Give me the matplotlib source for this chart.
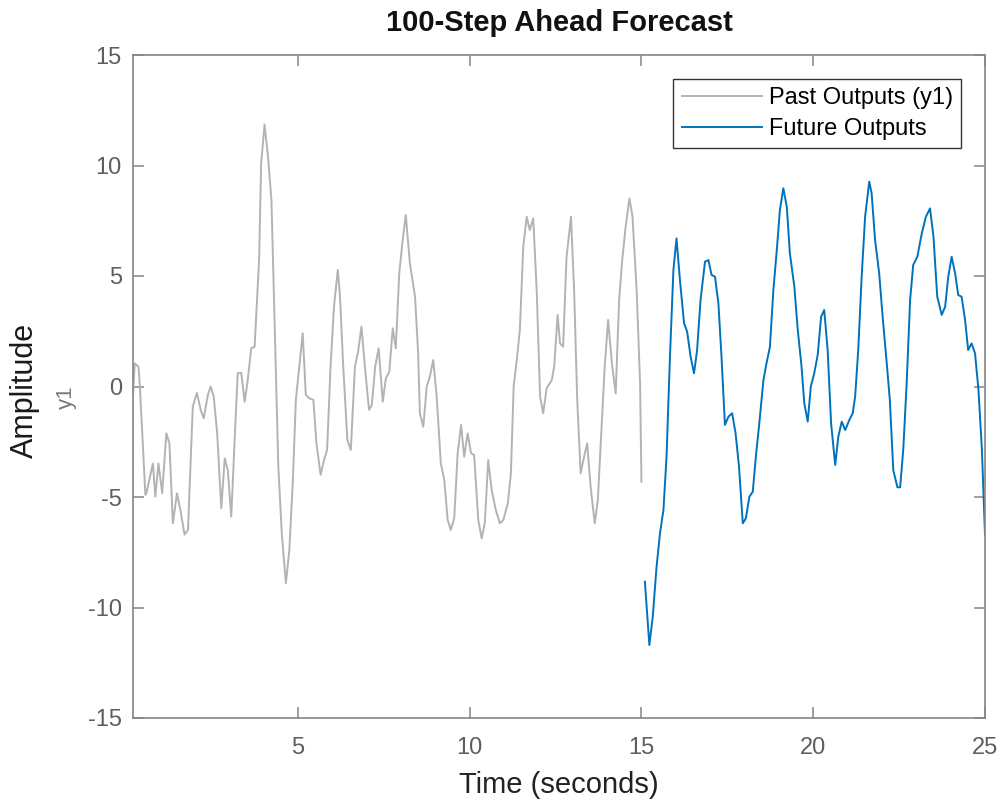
import matplotlib
matplotlib.use('Agg')
import matplotlib.pyplot as plt

# Past outputs (y1), vertices
past_t = [0.2, 0.25, 0.36, 0.40, 0.56, 0.59, 0.78, 0.85, 0.94, 1.05, 1.17, 1.26,
          1.36, 1.48, 1.58, 1.70, 1.80, 1.94, 2.06, 2.17, 2.26, 2.38, 2.46, 2.55,
          2.65, 2.77, 2.87, 2.96, 3.06, 3.18, 3.25, 3.35, 3.45, 3.54, 3.64, 3.74,
          3.87, 3.93, 4.03, 4.13, 4.23, 4.33, 4.43, 4.53, 4.65, 4.75, 4.85, 4.94,
          5.04, 5.14, 5.23, 5.33, 5.45, 5.54, 5.66, 5.76, 5.85, 5.95, 6.05, 6.16,
          6.22, 6.32, 6.44, 6.54, 6.66, 6.76, 6.85, 6.95, 7.07, 7.15, 7.25, 7.35,
          7.47, 7.56, 7.66, 7.76, 7.85, 7.95, 8.05, 8.14, 8.26, 8.41, 8.50, 8.55,
          8.65, 8.75, 8.84, 8.94, 9.04, 9.16, 9.26, 9.36, 9.45, 9.55, 9.65, 9.75,
          9.84, 9.94, 10.04, 10.13, 10.25, 10.35, 10.44, 10.54, 10.64, 10.76,
          10.88, 10.98, 11.11, 11.20, 11.28, 11.37, 11.46, 11.56, 11.66, 11.75,
          11.85, 11.95, 12.05, 12.14, 12.24, 12.39, 12.46, 12.56, 12.63, 12.72,
          12.82, 12.95, 13.04, 13.13, 13.23, 13.33, 13.42, 13.52, 13.64, 13.73,
          13.83, 13.93, 14.03, 14.14, 14.25, 14.35, 14.44, 14.54, 14.65, 14.74,
          14.86, 14.96, 15.0]
past_y = [-0.4, 1.05, 0.9, 0.0, -4.9, -4.83, -3.48, -4.98, -3.48, -4.83, -2.12, -2.57,
          -6.19, -4.83, -5.59, -6.7, -6.49, -0.91, -0.28, -1.06, -1.44, -0.38, 0.0, -0.46,
          -2.12, -5.51, -3.25, -3.78, -5.89, -1.67, 0.6, 0.62, -0.69, 0.29, 1.73, 1.8,
          5.72, 10.1, 11.85, 10.4, 8.44, 2.41, -3.63, -6.63, -8.9, -7.4, -4.38, -0.61,
          0.9, 2.41, -0.38, -0.53, -0.61, -2.57, -4.0, -3.33, -2.87, 0.9, 3.61, 5.27,
          4.22, 0.9, -2.42, -2.87, 0.9, 1.65, 2.71, 0.9, -1.06, -0.84, 0.9, 1.73,
          -0.69, 0.37, 0.67, 2.63, 1.73, 5.12, 6.63, 7.76, 5.57, 4.06, 1.5, -1.21,
          -1.82, 0.0, 0.44, 1.2, -0.46, -3.48, -4.23, -6.04, -6.49, -5.96, -3.02, -1.74,
          -3.18, -2.12, -3.02, -3.1, -6.04, -6.87, -6.19, -3.33, -4.68, -5.59,
          -6.19, -6.04, -5.29, -3.93, 0.0, 1.2, 2.56, 6.33, 7.68, 7.08,
          7.61, 4.37, -0.46, -1.21, -0.08, 0.29, 0.9, 3.24, 1.95, 1.8,
          5.87, 7.68, 4.37, -0.61, -3.93, -3.18, -2.57, -4.53, -6.19, -5.14,
          -2.12, 0.9, 3.01, 1.05, -0.31, 3.91, 5.72, 7.23, 8.51, 7.68,
          4.37, 0.14, -4.31]

# Future outputs (100-step forecast)
future_t = [15.1, 15.23, 15.33, 15.44, 15.54, 15.64, 15.73, 15.83, 15.93, 16.02,
            16.12, 16.24, 16.33, 16.43, 16.53, 16.62, 16.72, 16.85, 16.95, 17.04,
            17.14, 17.24, 17.33, 17.43, 17.53, 17.64, 17.74, 17.84, 17.95, 18.04,
            18.14, 18.24, 18.33, 18.43, 18.55, 18.64, 18.74, 18.84, 18.94, 19.03,
            19.13, 19.23, 19.32, 19.45, 19.55, 19.66, 19.74, 19.84, 19.93, 20.03,
            20.13, 20.23, 20.32, 20.42, 20.52, 20.64, 20.73, 20.83, 20.93, 21.05,
            21.15, 21.22, 21.31, 21.41, 21.51, 21.63, 21.70, 21.80, 21.92, 22.02,
            22.14, 22.23, 22.33, 22.45, 22.53, 22.62, 22.72, 22.82, 22.91, 23.03,
            23.16, 23.28, 23.40, 23.50, 23.61, 23.74, 23.84, 23.93, 24.03, 24.13,
            24.22, 24.32, 24.42, 24.51, 24.61, 24.71, 24.81, 24.91, 25.0]
future_y = [-8.83, -11.7, -10.4, -8.15, -6.64, -5.59, -3.18, 1.35, 5.27, 6.7,
            4.82, 2.86, 2.48, 1.35, 0.6, 1.65, 3.91, 5.65, 5.72, 5.05,
            4.97, 3.76, 1.35, -1.74, -1.37, -1.21, -2.12, -3.63, -6.19, -5.96,
            -4.99, -4.76, -3.18, -1.67, 0.29, 1.05, 1.8, 4.37, 6.18, 7.99,
            8.97, 8.14, 6.03, 4.52, 2.56, 0.9, -0.76, -1.59, 0.0, 0.6,
            1.43, 3.16, 3.46, 1.65, -1.67, -3.55, -2.27, -1.59, -1.97, -1.52,
            -1.21, -0.46, 1.65, 4.97, 7.68, 9.27, 8.74, 6.63, 5.12, 3.16,
            1.05, -0.61, -3.78, -4.56, -4.56, -2.87, 0.14, 3.91, 5.5, 5.87,
            6.93, 7.68, 8.06, 6.78, 4.06, 3.24, 3.61, 4.97, 5.87, 5.12,
            4.14, 4.06, 3.01, 1.65, 1.95, 1.5, -0.16, -2.87, -6.7]

x_ticks = [5, 10, 15, 20, 25]
y_ticks = [-15, -10, -5, 0, 5, 10, 15]

plt.rcParams['font.family'] = ['Liberation Sans', 'DejaVu Sans']
plt.rcParams['axes.unicode_minus'] = False

fig = plt.figure(figsize=(10.02, 8.01), dpi=100)
# axes box: x 133..985 px, y 55..718 px
ax = fig.add_axes([133 / 1002, (801 - 718) / 801, 852 / 1002, 663 / 801])

ax.plot(past_t, past_y, color='#b3b3b3', linewidth=1.4, label='Past Outputs (y1)')
ax.plot(future_t, future_y, color='#0072BD', linewidth=1.4, label='Future Outputs')

ax.set_xlim(0.2, 25)
ax.set_ylim(-15, 15)
ax.set_xticks(x_ticks)
ax.set_yticks(y_ticks)

axis_grey = '#858585'
for sp in ax.spines.values():
    sp.set_color(axis_grey)
    sp.set_linewidth(1.2)
ax.tick_params(direction='in', length=8, width=1.1, color=axis_grey,
               labelcolor='#5e5e5e', labelsize=17, top=True, right=True)
ax.tick_params(axis='y', pad=8)
ax.tick_params(axis='x', pad=14)

ax.set_title('100-Step Ahead Forecast', fontsize=21, fontweight='bold',
             color='#111111', pad=17)
ax.set_xlabel('Time (seconds)', fontsize=21, color='#222222', labelpad=8)
fig.text(25 / 1002, 1 - 390 / 801, 'Amplitude', rotation=90,
         fontsize=22, color='#1a1a1a', ha='center', va='center')
fig.text(66 / 1002, 1 - 397 / 801, 'y1', rotation=90, fontsize=16,
         color='#7a7a7a', ha='center', va='center')

leg = ax.legend(loc='upper right', fontsize=17, frameon=True, fancybox=False,
                edgecolor='#333333', framealpha=1, handlelength=3.4,
                borderpad=0.35, labelspacing=0.38, handletextpad=0.3,
                borderaxespad=1.0)
leg.get_frame().set_linewidth(1.0)

fig.savefig('out.png', dpi=100)
